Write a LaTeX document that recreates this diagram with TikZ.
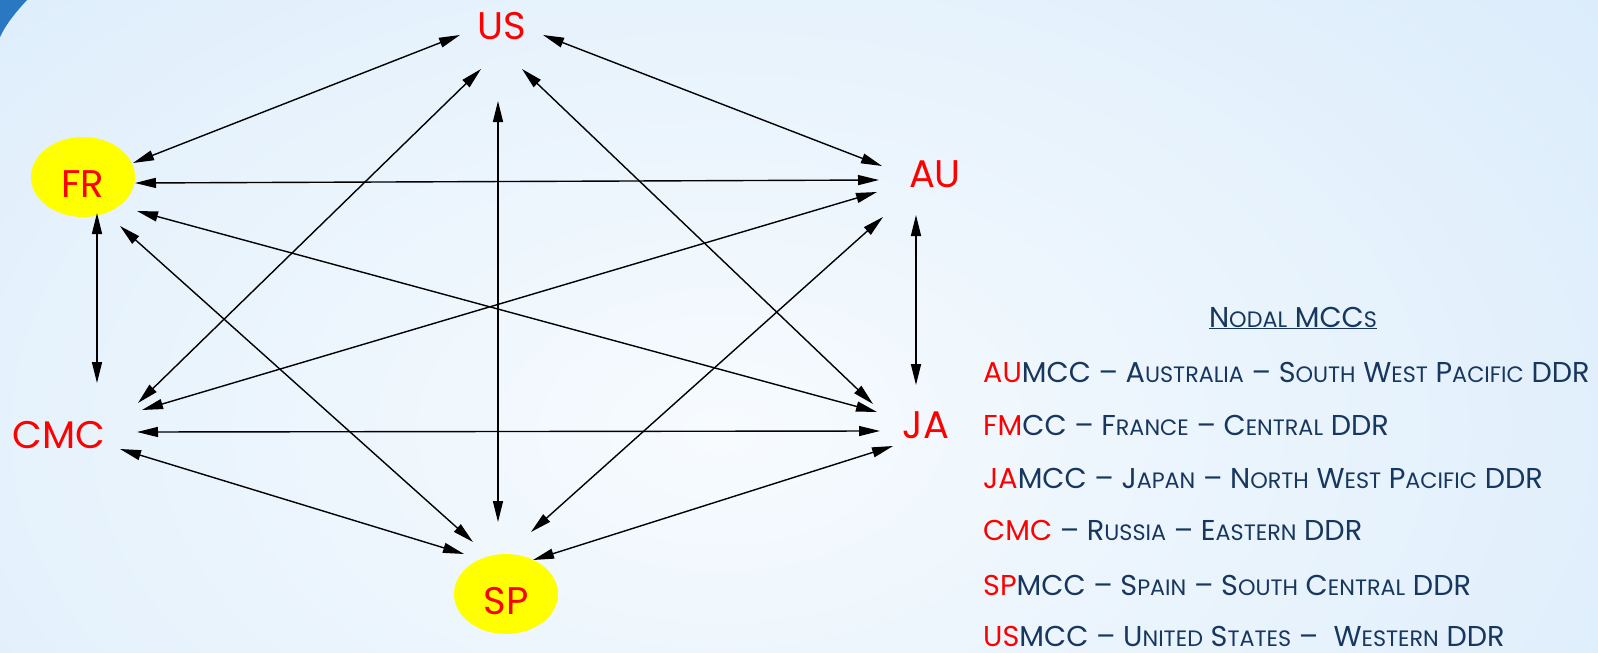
\documentclass[tikz,border=0pt]{standalone}
\usepackage{fontspec}
\setmainfont{Poppins}
\usetikzlibrary{arrows.meta,shapes.geometric}
\definecolor{bgout}{HTML}{D2E7FA}
\definecolor{bgin}{HTML}{F7FBFE}
\definecolor{mccred}{HTML}{FF0000}
\definecolor{mccyel}{HTML}{FFFF00}
\definecolor{navy}{HTML}{17375E}
\definecolor{swoosh}{HTML}{2A78C2}
\newcommand\sm[1]{{\fontsize{22.3pt}{22.3pt}\selectfont #1}}
\newcommand\rd[1]{\textcolor{mccred}{#1}}
\begin{document}
\begin{tikzpicture}[x=1pt,y=-1pt,
  lab/.style={inner sep=0pt,text=mccred,font=\fontsize{38.5pt}{38.5pt}\selectfont},
  ell/.style={ellipse,fill=mccyel,inner sep=0pt,minimum width=104pt,minimum height=80pt,
    text=mccred,font=\fontsize{38.5pt}{38.5pt}\selectfont,text height=41pt,text depth=0pt},
  bi/.style={line width=1.4pt,{Triangle[length=21pt,width=10pt]}-{Triangle[length=21pt,width=10pt]}},
  leg/.style={anchor=base west,inner sep=0pt,text=navy,font=\fontsize{28.7pt}{28.7pt}\selectfont}]
\useasboundingbox (0,0) rectangle (1598,653);
\fill[bgout] (0,0) rectangle (1598,653);
\begin{scope}
\clip (0,0) rectangle (1598,653);
\shade[inner color=bgin,outer color=bgout] (720,430) ellipse [x radius=1500,y radius=950];
\end{scope}
\fill[swoosh] (0,0) -- (27,0) .. controls (16,12) and (6,24) .. (0,37) -- cycle;
% nodes
\node[lab] (US) at (502,26) {US};
\node[ell] (FR) at (83,177) {FR};
\node[lab] (AU) at (935,174) {AU};
\node[lab] (CMC) at (59,435) {CMC};
\node[lab] (JA) at (926,425) {JA};
\node[ell] (SP) at (506,594) {SP};
% connectors
\draw[bi] ([shift={(-42,9)}]US.center) -- ([shift={(50,-14)}]FR.center);
\draw[bi] ([shift={(41,9)}]US.center) -- ([shift={(-53,-8)}]AU.center);
\draw[bi] ([shift={(-21,43)}]US.center) -- ([shift={(79,-32)}]CMC.center);
\draw[bi] ([shift={(20,43)}]US.center) -- ([shift={(-53,-21)}]JA.center);
\draw[bi] ([shift={(-4,75)}]US.center) -- ([shift={(-8,-72)}]SP.center);
\draw[bi] ([shift={(52,6)}]FR.center) -- ([shift={(-56,6)}]AU.center);
\draw[bi] ([shift={(14,36)}]FR.center) -- ([shift={(38,-52)}]CMC.center);
\draw[bi] ([shift={(54,34)}]FR.center) -- ([shift={(-49,-13)}]JA.center);
\draw[bi] ([shift={(37,49)}]FR.center) -- ([shift={(-33,-52)}]SP.center);
\draw[bi] ([shift={(-58,18)}]AU.center) -- ([shift={(83,-25)}]CMC.center);
\draw[bi] ([shift={(-19,41)}]AU.center) -- ([shift={(-10,-40)}]JA.center);
\draw[bi] ([shift={(-52,43)}]AU.center) -- ([shift={(25,-62)}]SP.center);
\draw[bi] ([shift={(78,-3)}]CMC.center) -- ([shift={(-46,6)}]JA.center);
\draw[bi] ([shift={(61,14)}]CMC.center) -- ([shift={(-42,-40)}]SP.center);
\draw[bi] ([shift={(-33,21)}]JA.center) -- ([shift={(27,-34)}]SP.center);
% legend
\node[leg,anchor=base] (title) at (1293,327) {\underline{N\sm{ODAL} MCC\sm{S}}};
\node[leg] (l1) at (983,382) {\rd{AU}MCC -- A\sm{USTRALIA} -- S\sm{OUTH} W\sm{EST} P\sm{ACIFIC} DDR};
\node[leg] (l2) at (983,435) {\rd{FM}CC -- F\sm{RANCE} -- C\sm{ENTRAL} DDR};
\node[leg] (l3) at (983,488) {\rd{JA}MCC -- J\sm{APAN} -- N\sm{ORTH} W\sm{EST} P\sm{ACIFIC} DDR};
\node[leg] (l4) at (983,540) {\rd{CMC} -- R\sm{USSIA} -- E\sm{ASTERN} DDR};
\node[leg] (l5) at (983,595) {\rd{SP}MCC -- S\sm{PAIN} -- S\sm{OUTH} C\sm{ENTRAL} DDR};
\node[leg] (l6) at (983,646) {\rd{US}MCC -- U\sm{NITED} S\sm{TATES} -- \ W\sm{ESTERN} DDR};
\end{tikzpicture}
\end{document}
